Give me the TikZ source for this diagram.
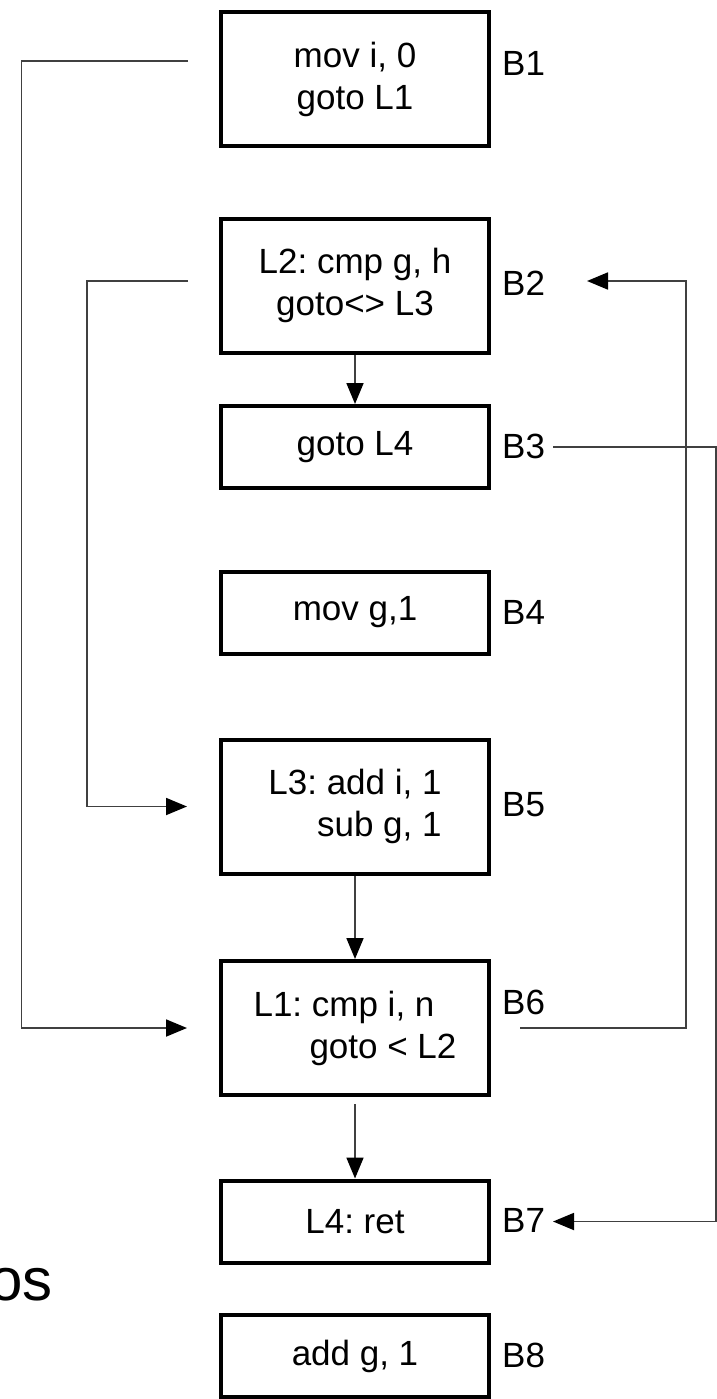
\documentclass[tikz,border=0pt]{standalone}
\usepackage{fontspec}
\setmainfont{Liberation Sans}
\frenchspacing
\usetikzlibrary{arrows.meta, positioning, calc}

\begin{document}
\begin{tikzpicture}[
    x=1pt, y=1pt,
    blk/.style={draw, line width=4pt, minimum width=268pt, minimum height=82pt,
                font=\fontsize{35}{42}\selectfont, align=center, inner sep=0pt},
    tallblk/.style={blk, minimum height=134pt},
    blabel/.style={font=\fontsize{35}{42}\selectfont, anchor=west, inner sep=0pt},
    flow/.style={-{Triangle[length=21pt, width=17pt, black]}, line width=1.8pt, black!75},
]

\useasboundingbox (0, 0) rectangle (716, -1399);

% ===================== BASIC BLOCKS =====================
\node[tallblk] (b1) at (355, -79.5) {mov i, 0\\goto L1};
\node[tallblk] (b2) at (355, -285.5) {L2: cmp g, h\\goto<> L3};
\node[blk] (b3) at (355, -447) {goto L4};
\node[blk] (b4) at (355, -612.5) {mov g,1};
\node[tallblk, align=right] (b5) at (355, -806.5) {L3: add i, 1\\sub g, 1};
\node[tallblk, align=right] (b6) at (355, -1028) {L1: cmp i, n\hspace*{22pt}\\goto < L2};
\node[blk] (b7) at (355, -1221.5) {L4: ret};
\node[blk] (b8) at (355, -1356) {add g, 1};

% block names beside the boxes
\foreach \n/\dy in {1/16.5, 2/2.5, 3/1, 4/0, 5/1.5, 6/26, 7/1.5, 8/1} {
    \node[blabel] (lbl\n) at ($(b\n.east) + (11, \dy)$) {B\n};
}

% cut-off text at the left margin
\node[font=\fontsize{60}{72}\selectfont, anchor=base east, inner sep=0pt]
    (frag) at (53, -1300) {os};

% ===================== FALL-THROUGH EDGES =====================
\draw[flow] (b2) -- (b3);
\draw[flow] (b5) -- (b6);
\draw[flow, shorten <=7pt] (b6) -- (b7);

% ===================== JUMPS =====================
% goto L1
\draw[flow, shorten <=31pt, shorten >=32pt]
    ([yshift=18.5pt]b1.west) -- ++(-197.5, 0) |- (b6.west);

% goto<> L3
\draw[flow, shorten <=31pt, shorten >=32pt]
    ([yshift=4.5pt]b2.west) -- ++(-132, 0) |- (b5.west);

% goto < L2
\draw[flow, shorten <=29pt, shorten >=96pt]
    (b6.east) -- ++(195, 0) |- ([yshift=4.5pt]b2.east);

% goto L4
\draw[flow, shorten <=62pt, shorten >=62pt]
    (b3.east) -- ++(225, 0) |- (b7.east);

\end{tikzpicture}
\end{document}
